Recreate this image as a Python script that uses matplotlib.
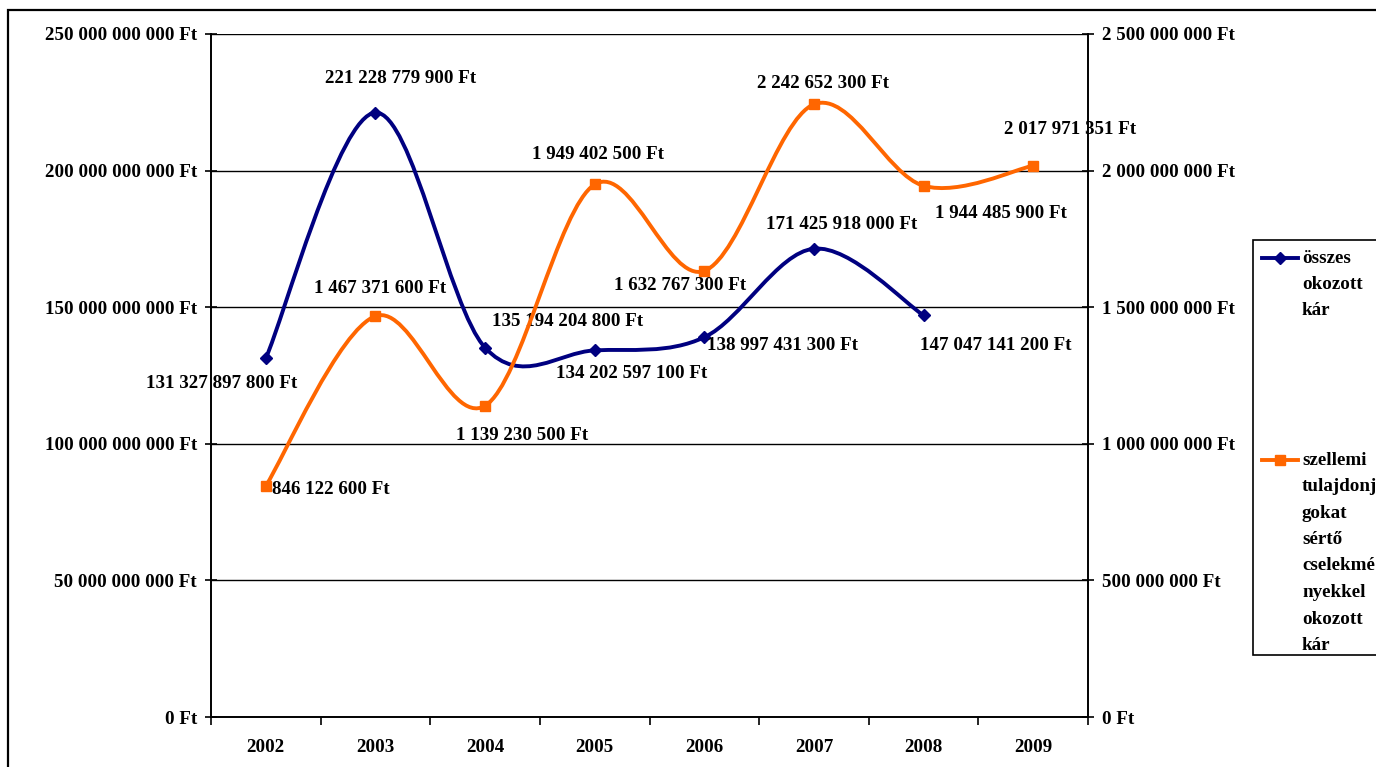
import matplotlib.pyplot as plt
from matplotlib.path import Path
from matplotlib.patches import PathPatch, Rectangle
from matplotlib.lines import Line2D

years = ['2002', '2003', '2004', '2005', '2006', '2007', '2008', '2009']
osszes = [131327897800, 221228779900, 135194204800, 134202597100,
          138997431300, 171425918000, 147047141200]
szellemi = [846122600, 1467371600, 1139230500, 1949402500,
            1632767300, 2242652300, 1944485900, 2017971351]
left_ticks = [0, 50e9, 100e9, 150e9, 200e9, 250e9]
right_ticks = [0, 500e6, 1000e6, 1500e6, 2000e6, 2500e6]

# label offsets (pixels) from each point
off_blue = [(-44, -25), (25, 34), (83, 26), (37, -23), (78, -8), (28, 24), (72, -30)]
off_orange = [(65, -4), (5, 28), (37, -30), (3, 30), (-24, -15), (9, 21), (77, -28), (37, 36)]

BLUE = '#000080'
ORANGE = '#FF6600'
FONT = 'Liberation Serif'
FS = 13.7

W, H = 1376, 767
plt.rcParams['font.family'] = FONT
plt.rcParams['font.weight'] = 'bold'


def ft(v):
    return f"{int(round(v)):,}".replace(",", " ") + " Ft"


def smooth_path(xs, ys):
    # Excel-like smoothed line: cubic bezier, catmull-rom control points
    pts = list(zip(xs, ys))
    verts = [pts[0]]
    codes = [Path.MOVETO]
    n = len(pts)
    for i in range(n - 1):
        p0 = pts[i - 1] if i > 0 else pts[i]
        p1 = pts[i]
        p2 = pts[i + 1]
        p3 = pts[i + 2] if i + 2 < n else pts[i + 1]
        c1 = (p1[0] + (p2[0] - p0[0]) / 6, p1[1] + (p2[1] - p0[1]) / 6)
        c2 = (p2[0] - (p3[0] - p1[0]) / 6, p2[1] - (p3[1] - p1[1]) / 6)
        verts += [c1, c2, p2]
        codes += [Path.CURVE4] * 3
    return Path(verts, codes)


fig = plt.figure(figsize=(W / 100, H / 100), dpi=100)
ax = fig.add_axes([211 / W, 1 - 717 / H, 877 / W, 683 / H])
ax2 = ax.twinx()

ax.set_xlim(-0.5, 7.5)
ax.set_ylim(0, 250e9)
ax2.set_ylim(0, 2500e6)

for a in (ax, ax2):
    a.spines['top'].set_visible(False)
    for s in a.spines.values():
        s.set_linewidth(1.2)
        s.set_color('black')

ax.set_yticks(left_ticks)
ax.set_yticklabels([ft(v) for v in left_ticks], fontsize=FS, fontweight='bold')
ax2.set_yticks(right_ticks)
ax2.set_yticklabels([ft(v) for v in right_ticks], fontsize=FS, fontweight='bold')
ax.tick_params(axis='y', direction='inout', length=8, width=1.2, pad=6)
ax2.tick_params(axis='y', direction='inout', length=8, width=1.2, pad=6)

ax.set_xticks([i - 0.5 for i in range(9)])
ax.set_xticklabels([])
ax.set_xticks(range(8), minor=True)
ax.set_xticklabels(years, minor=True, fontsize=FS, fontweight='bold')
ax.tick_params(axis='x', which='major', direction='out', length=6, width=1.2)
ax.tick_params(axis='x', which='minor', length=0, pad=16)

ax.yaxis.grid(True, color='black', linewidth=1)
ax.set_axisbelow(True)

xb = list(range(len(osszes)))
xo = list(range(len(szellemi)))

ax.add_patch(PathPatch(smooth_path(xb, osszes), fill=False, edgecolor=BLUE,
                       linewidth=2.8, capstyle='round', joinstyle='round'))
ax.plot(xb, osszes, linestyle='none', marker='D', color=BLUE, markersize=6)

ax2.add_patch(PathPatch(smooth_path(xo, szellemi), fill=False, edgecolor=ORANGE,
                        linewidth=2.8, capstyle='round', joinstyle='round'))
ax2.plot(xo, szellemi, linestyle='none', marker='s', color=ORANGE, markersize=7)

for x, v, (dx, dy) in zip(xb, osszes, off_blue):
    ax.annotate(ft(v), (x, v), xytext=(dx, dy), textcoords='offset pixels',
                ha='center', va='center', fontsize=FS, fontweight='bold')
for x, v, (dx, dy) in zip(xo, szellemi, off_orange):
    ax2.annotate(ft(v), (x, v), xytext=(dx, dy), textcoords='offset pixels',
                 ha='center', va='center', fontsize=FS, fontweight='bold')


def fx(px):
    return px / W


def fy(py):
    return 1 - py / H


# chart border
fig.add_artist(Rectangle((fx(8), fy(800)), fx(1400 - 8), fy(10) - fy(800),
                         fill=False, edgecolor='black', linewidth=1.6,
                         transform=fig.transFigure))

# legend
fig.add_artist(Rectangle((fx(1253), fy(655)), fx(1400 - 1253), fy(240) - fy(655),
                         fill=True, facecolor='white', edgecolor='black',
                         linewidth=1.2, transform=fig.transFigure))
entries = [
    (BLUE, 'D', 6, 258, ['összes', 'okozott', 'kár']),
    (ORANGE, 's', 7, 460, ['szellemi', 'tulajdonjo', 'gokat', 'sértő',
                           'cselekmé', 'nyekkel', 'okozott', 'kár']),
]
for col, mk, ms, y0, lines in entries:
    fig.add_artist(Line2D([fx(1262), fx(1298)], [fy(y0), fy(y0)], color=col,
                          linewidth=2.8, transform=fig.transFigure))
    fig.add_artist(Line2D([fx(1280)], [fy(y0)], color=col, marker=mk,
                          markersize=ms, transform=fig.transFigure))
    for k, t in enumerate(lines):
        fig.text(fx(1302), fy(y0 + k * 26.5), t, ha='left', va='center',
                 fontsize=FS, fontweight='bold')

fig.savefig('out.png', dpi=100)
